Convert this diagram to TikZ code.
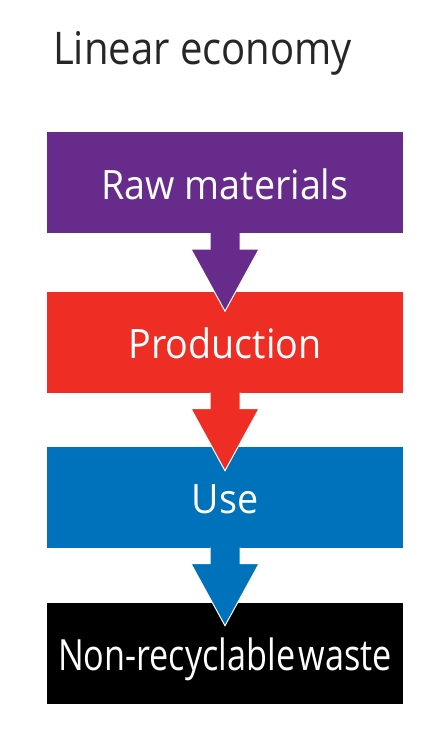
\documentclass[tikz,border=0pt]{standalone}
\usepackage{fontspec}
\setmainfont{Open Sans}
\newfontfamily\titlefont[FakeStretch=0.89]{Open Sans}
\newfontfamily\boxfont[FakeStretch=0.93]{Open Sans}
\newfontfamily\wastefont[FakeStretch=0.795, WordSpace=0.4]{Open Sans}
\usetikzlibrary{calc}

\definecolor{rawpurple}{RGB}{103,44,139}
\definecolor{prodred}{RGB}{238,46,36}
\definecolor{useblue}{RGB}{0,114,188}

\tikzset{
	stage/.style = {rectangle, minimum width = 356pt, minimum height = 101pt, inner sep = 0pt,
		text = white, font = \boxfont\fontsize{40.5}{40.5}\selectfont, text height = 33pt, text depth = 0pt},
	flow/.style = {line width = 1pt, draw = white, line join = miter}
}

\begin{document}
\begin{tikzpicture}[x = 1pt, y = -1pt]
		\def\shaft{15};
		\def\head{34};
		\def\neck{16};
		\def\tip{78};
		
		\useasboundingbox (0,0) rectangle (444,738);
		
		\node (title) [anchor = base west, inner sep = 0pt, font = \titlefont\fontsize{45}{45}\selectfont, text = black!85] at (53,65) {Linear economy};
		
		\node (raw) [stage, fill = rawpurple] at (225,182.5) {Raw materials};
		\node (prod) [stage, fill = prodred] at (225,342) {Production};
		\node (use) [stage, fill = useblue] at (225,497) {Use};
		\node (waste) [stage, fill = black, font = \wastefont\fontsize{43}{43}\selectfont] at (225,653.5) {Non-recyclable waste};
		
		\foreach \from/\col in {raw/rawpurple, prod/prodred, use/useblue}
		{
			\filldraw [flow, fill = \col] ($(\from.south) + (-\shaft,0)$) -- ++(0,\neck) -- ++({\shaft-\head},0)
				-- ($(\from.south) + (0,\tip)$) -- ($(\from.south) + (\head,\neck)$) -- ++({\shaft-\head},0) -- ($(\from.south) + (\shaft,0)$);
		}
	\end{tikzpicture}
\end{document}
